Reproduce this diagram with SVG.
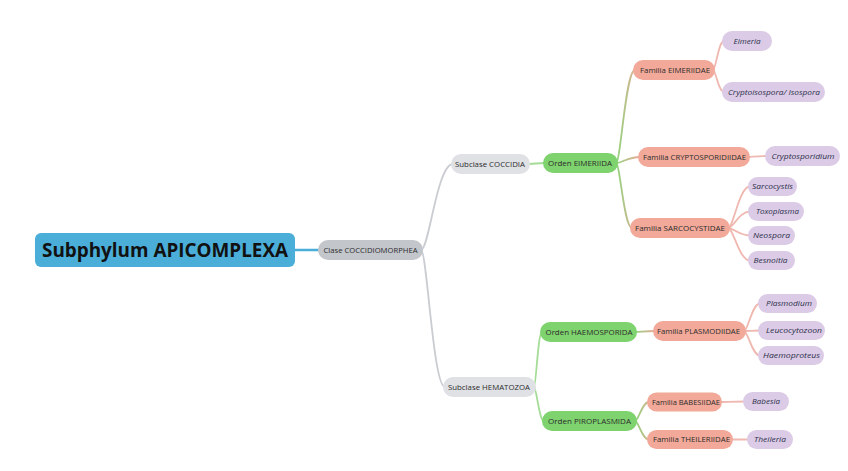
<svg xmlns="http://www.w3.org/2000/svg" width="848" height="471" viewBox="0 0 848 471">
<defs>
<linearGradient id="gA" gradientUnits="userSpaceOnUse" x1="616" y1="0" x2="640" y2="0"><stop offset="0" stop-color="#8fd47e"/><stop offset="1" stop-color="#eea898"/></linearGradient>
<linearGradient id="gB" gradientUnits="userSpaceOnUse" x1="635" y1="0" x2="655" y2="0"><stop offset="0" stop-color="#8fd47e"/><stop offset="1" stop-color="#eea898"/></linearGradient>
</defs>
<style>
.c{fill:none;stroke-width:1.8;stroke-linecap:round}
.cr{stroke:#4aaed9;stroke-width:2.6}
.cg{stroke:#c9ccd1}
.co{stroke:#a5dc97}
.cf{stroke:#efb8b0}
.t{font-family:"Open Sans","Liberation Sans",sans-serif;font-size:7px;fill:#2b2b2b;text-anchor:middle}
.g{font-style:italic;fill:#2a2f4a}
.root rect{fill:#4aaed9}
.cl rect{fill:#c3c6cb}
.sc rect{fill:#dfe1e5}
.or rect{fill:#7fd36e}
.fa rect{fill:#f2a999}
.ge rect{fill:#dccbe6}
</style>
<g id="connectors">
<path class="c cr" d="M293,250 L320,250"/>
<path class="c cg" d="M421,250 C429,250 437,164 453,164"/>
<path class="c cg" d="M421,250 C427,250 433,387 445,387"/>
<path class="c co" d="M528,164 L545,163"/>
<path class="c co" d="M534,387 C536,387 538,332 542,332"/>
<path class="c co" d="M534,387 C536.5,387 539,421 544,421"/>
<path class="c" stroke="url(#gA)" d="M616,163 C620.75,163 625.5,70 635,70"/>
<path class="c" stroke="url(#gA)" d="M616,163 C622,163 628,157 640,157"/>
<path class="c" stroke="url(#gA)" d="M616,163 C620,163 624,228 632,228"/>
<path class="c" stroke="url(#gB)" d="M635,332 C640,332 645,331 655,331"/>
<path class="c" stroke="url(#gB)" d="M635,421 C638.5,421 642,402 649,402"/>
<path class="c" stroke="url(#gB)" d="M635,421 C638.5,421 642,439.5 649,439.5"/>
<path class="c cf" d="M713,70 C715.75,70 718.5,41 724,41"/>
<path class="c cf" d="M713,70 C715.75,70 718.5,92 724,92"/>
<path class="c cf" d="M748,157 C752,157 756,156 767,156"/>
<path class="c cf" d="M728,228 C733.5,228 739,186.5 750,186.5"/>
<path class="c cf" d="M728,228 C733.5,228 739,211.5 750,211.5"/>
<path class="c cf" d="M728,228 C733.5,228 739,235.5 750,235.5"/>
<path class="c cf" d="M728,228 C733.5,228 739,260.5 750,260.5"/>
<path class="c cf" d="M744,331 C748,331 752,303.5 760,303.5"/>
<path class="c cf" d="M744,331 C748,331 752,330.5 760,330.5"/>
<path class="c cf" d="M744,331 C748,331 752,355.5 760,355.5"/>
<path class="c cf" d="M720,402 C726,402 732,401.5 745,401.5"/>
<path class="c cf" d="M731,439.5 L749,439.5"/>
</g>
<g id="root" class="root"><rect x="35" y="233" width="260" height="34" rx="6"/><text x="165" y="256.5" font-family="'Open Sans','Liberation Sans',sans-serif" font-size="20" font-weight="bold" fill="#111" text-anchor="middle" textLength="246" lengthAdjust="spacingAndGlyphs">Subphylum APICOMPLEXA</text></g>
<g id="clase" class="cl"><rect x="318" y="240" width="105" height="20" rx="10"/><text class="t" x="370.5" y="252.5" textLength="94" lengthAdjust="spacingAndGlyphs">Clase COCCIDIOMORPHEA</text></g>
<g id="subclase-coccidia" class="sc"><rect x="451" y="154" width="79" height="20" rx="10"/><text class="t" x="490" y="166.5" textLength="70" lengthAdjust="spacingAndGlyphs">Subclase COCCIDIA</text></g>
<g id="subclase-hematozoa" class="sc"><rect x="443" y="377" width="93" height="20" rx="10"/><text class="t" x="489" y="389.5" textLength="82" lengthAdjust="spacingAndGlyphs">Subclase HEMATOZOA</text></g>
<g id="orden-eimeriida" class="or"><rect x="543" y="153" width="75" height="20" rx="10"/><text class="t" x="580" y="165.5" textLength="64" lengthAdjust="spacingAndGlyphs">Orden EIMERIIDA</text></g>
<g id="orden-haemosporida" class="or"><rect x="540" y="322" width="97" height="20" rx="10"/><text class="t" x="589" y="334.5" textLength="87" lengthAdjust="spacingAndGlyphs">Orden HAEMOSPORIDA</text></g>
<g id="orden-piroplasmida" class="or"><rect x="542" y="411" width="95" height="20" rx="10"/><text class="t" x="589.5" y="423.5" textLength="83" lengthAdjust="spacingAndGlyphs">Orden PIROPLASMIDA</text></g>
<g id="familia-eimeriidae" class="fa"><rect x="633" y="60" width="82" height="20" rx="10"/><text class="t" x="675" y="72.5" textLength="70" lengthAdjust="spacingAndGlyphs">Familia EIMERIIDAE</text></g>
<g id="familia-cryptosporidiidae" class="fa"><rect x="638" y="147" width="112" height="20" rx="10"/><text class="t" x="694.5" y="159.5" textLength="103" lengthAdjust="spacingAndGlyphs">Familia CRYPTOSPORIDIIDAE</text></g>
<g id="familia-sarcocystidae" class="fa"><rect x="630" y="218" width="100" height="20" rx="10"/><text class="t" x="680" y="230.5" textLength="90" lengthAdjust="spacingAndGlyphs">Familia SARCOCYSTIDAE</text></g>
<g id="familia-plasmodiidae" class="fa"><rect x="653" y="321" width="93" height="20" rx="10"/><text class="t" x="698.5" y="333.5" textLength="83" lengthAdjust="spacingAndGlyphs">Familia PLASMODIIDAE</text></g>
<g id="familia-babesiidae" class="fa"><rect x="647" y="392.5" width="75" height="19" rx="9.5"/><text class="t" x="686" y="404.5" textLength="68" lengthAdjust="spacingAndGlyphs">Familia BABESIIDAE</text></g>
<g id="familia-theileriidae" class="fa"><rect x="647" y="430" width="86" height="19" rx="9.5"/><text class="t" x="691.5" y="442" textLength="77" lengthAdjust="spacingAndGlyphs">Familia THEILERIIDAE</text></g>
<g id="eimeria" class="ge"><rect x="722" y="31" width="50" height="20" rx="10"/><text class="t g" x="747" y="43.5" textLength="27" lengthAdjust="spacingAndGlyphs">Eimeria</text></g>
<g id="cryptoisospora" class="ge"><rect x="722" y="82" width="103" height="20" rx="10"/><text class="t g" x="774" y="94.5" textLength="92" lengthAdjust="spacingAndGlyphs">Cryptoisospora/ Isospora</text></g>
<g id="cryptosporidium" class="ge"><rect x="765" y="146" width="75" height="20" rx="10"/><text class="t g" x="803" y="158.5" textLength="63" lengthAdjust="spacingAndGlyphs">Cryptosporidium</text></g>
<g id="sarcocystis" class="ge"><rect x="748" y="177" width="49" height="19" rx="9.5"/><text class="t g" x="772.5" y="189" textLength="41" lengthAdjust="spacingAndGlyphs">Sarcocystis</text></g>
<g id="toxoplasma" class="ge"><rect x="748" y="202" width="56" height="19" rx="9.5"/><text class="t g" x="777.5" y="214" textLength="43" lengthAdjust="spacingAndGlyphs">Toxoplasma</text></g>
<g id="neospora" class="ge"><rect x="748" y="226" width="47" height="19" rx="9.5"/><text class="t g" x="771.5" y="238" textLength="37" lengthAdjust="spacingAndGlyphs">Neospora</text></g>
<g id="besnoitia" class="ge"><rect x="748" y="251" width="47" height="19" rx="9.5"/><text class="t g" x="770.5" y="263" textLength="34" lengthAdjust="spacingAndGlyphs">Besnoitia</text></g>
<g id="plasmodium" class="ge"><rect x="758" y="294" width="59" height="19" rx="9.5"/><text class="t g" x="789" y="306" textLength="46" lengthAdjust="spacingAndGlyphs">Plasmodium</text></g>
<g id="leucocytozoon" class="ge"><rect x="758" y="321" width="67" height="19" rx="9.5"/><text class="t g" x="794" y="333" textLength="56" lengthAdjust="spacingAndGlyphs">Leucocytozoon</text></g>
<g id="haemoproteus" class="ge"><rect x="758" y="346" width="66" height="19" rx="9.5"/><text class="t g" x="791.5" y="358" textLength="57" lengthAdjust="spacingAndGlyphs">Haemoproteus</text></g>
<g id="babesia" class="ge"><rect x="743" y="392" width="46" height="19" rx="9.5"/><text class="t g" x="766" y="404" textLength="28" lengthAdjust="spacingAndGlyphs">Babesia</text></g>
<g id="theileria" class="ge"><rect x="747" y="430" width="46" height="19" rx="9.5"/><text class="t g" x="770" y="442" textLength="32" lengthAdjust="spacingAndGlyphs">Theileria</text></g>
</svg>
